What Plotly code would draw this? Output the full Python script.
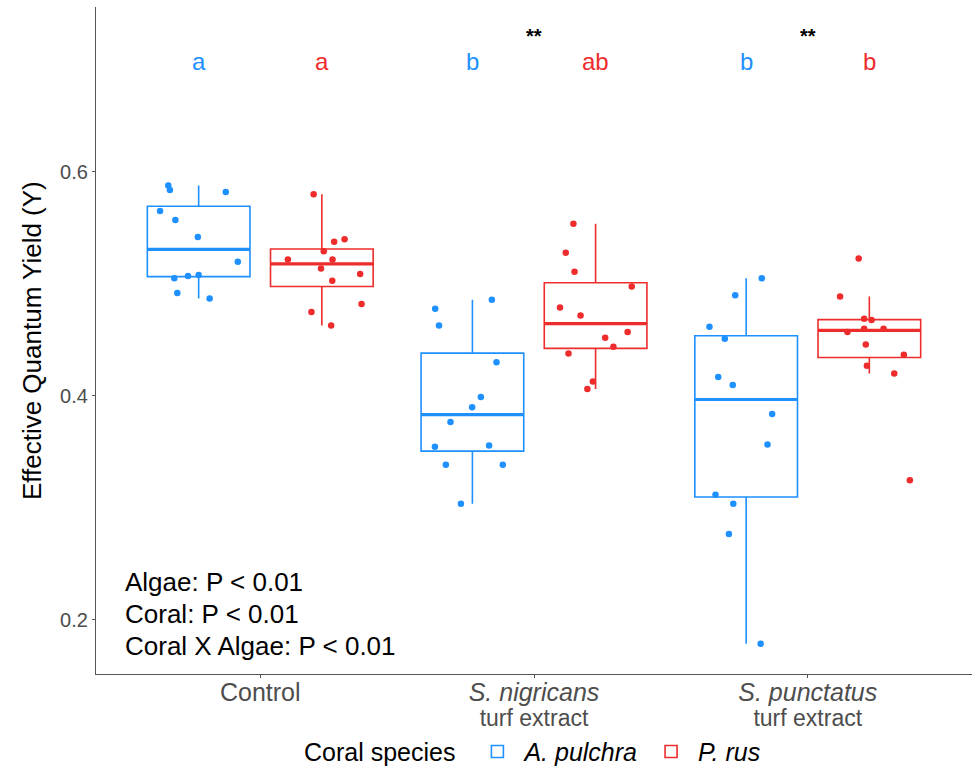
import numpy as np
import plotly.graph_objects as go

# ---------------- data ----------------
treatments = ["Control", "S. nigricans", "S. punctatus"]
tick_line1 = ["Control", "<i>S. nigricans</i>", "<i>S. punctatus</i>"]
tick_line2 = ["", "turf extract", "turf extract"]
species = ["A. pulchra", "P. rus"]
letters_pulchra = ["a", "b", "b"]
letters_rus = ["a", "ab", "b"]
interaction_marks = ["", "**", "**"]

# Effective quantum yield, A. pulchra
pulchra_control = [0.5878, 0.5836, 0.5819, 0.5649, 0.5569, 0.5417, 0.5196, 0.5048, 0.5069, 0.5078, 0.4917, 0.4869]
pulchra_nigricans = [0.4777, 0.4628, 0.4857, 0.4298, 0.3988, 0.3896, 0.3765, 0.3545, 0.3556, 0.3384, 0.3384, 0.3036]
pulchra_punctatus = [0.5048, 0.4896, 0.4616, 0.4509, 0.4167, 0.4095, 0.3837, 0.3565, 0.3116, 0.3036, 0.2765, 0.1786]
# Effective quantum yield, P. rus
rus_control = [0.5798, 0.5375, 0.5396, 0.5289, 0.5217, 0.5217, 0.5137, 0.5087, 0.5027, 0.4819, 0.4747, 0.4628]
rus_nigricans = [0.5536, 0.5277, 0.5107, 0.4976, 0.4788, 0.4717, 0.4569, 0.4518, 0.4438, 0.4378, 0.4128, 0.4060]
rus_punctatus = [0.5226, 0.4887, 0.4688, 0.4676, 0.4598, 0.4598, 0.4569, 0.4458, 0.4366, 0.4268, 0.4199, 0.3244]

# horizontal jitter of each point (category units)
pulchra_control_jit = [-0.111, -0.105, 0.099, -0.141, -0.085, -0.003, 0.143, -0.089, -0.039, 0.000, -0.078, 0.040]
pulchra_nigricans_jit = [-0.136, -0.122, 0.071, 0.088, 0.031, -0.001, -0.080, -0.137, 0.061, -0.097, 0.111, -0.042]
pulchra_punctatus_jit = [0.057, -0.040, -0.134, -0.078, -0.102, -0.049, 0.095, 0.078, -0.112, -0.047, -0.063, 0.053]
rus_control_jit = [-0.030, 0.045, 0.083, 0.007, -0.124, 0.039, -0.003, 0.140, 0.038, 0.145, -0.038, 0.034]
rus_nigricans_jit = [-0.081, -0.109, -0.077, 0.132, -0.130, -0.055, 0.117, 0.035, 0.065, -0.099, -0.010, -0.030]
rus_punctatus_jit = [-0.039, -0.107, -0.019, 0.008, -0.019, 0.052, -0.080, -0.013, 0.126, -0.009, 0.091, 0.148]

stats_lines = ["Algae: P < 0.01", "Coral: P < 0.01", "Coral X Algae: P < 0.01"]
stats_y = [0.2339, 0.2054, 0.1768]

# ---------------- styling ----------------
FONT = "Liberation Sans, Arial, Helvetica, sans-serif"
BLUE = "#1E90FF"
RED = "#EE2C2C"
DODGE = 0.225
BOXW = 0.375

groups = {
    "A. pulchra": dict(color=BLUE, offset=-DODGE,
                       vals=[pulchra_control, pulchra_nigricans, pulchra_punctatus],
                       jit=[pulchra_control_jit, pulchra_nigricans_jit, pulchra_punctatus_jit],
                       letters=letters_pulchra),
    "P. rus": dict(color=RED, offset=DODGE,
                   vals=[rus_control, rus_nigricans, rus_punctatus],
                   jit=[rus_control_jit, rus_nigricans_jit, rus_punctatus_jit],
                   letters=letters_rus),
}


def box_stats(v):
    a = np.asarray(v, dtype=float)
    q1, med, q3 = np.percentile(a, [25, 50, 75])
    iqr = q3 - q1
    lo = a[a >= q1 - 1.5 * iqr].min()
    hi = a[a <= q3 + 1.5 * iqr].max()
    return q1, med, q3, lo, hi


def tick_text(l1, l2):
    s = "<span style='font-size:25px'>%s</span>" % l1
    if l2:
        s += "<br><span style='font-size:23px'>%s</span>" % l2
    return s


tick_labels = [tick_text(a, b) for a, b in zip(tick_line1, tick_line2)]

fig = go.Figure()
cat_pos = np.arange(1, len(treatments) + 1)

for sp in species:
    g = groups[sp]
    xs = list(cat_pos + g["offset"])
    st = [box_stats(v) for v in g["vals"]]
    fig.add_trace(go.Box(
        x=xs,
        q1=[s[0] for s in st], median=[s[1] for s in st], q3=[s[2] for s in st],
        lowerfence=[s[3] for s in st], upperfence=[s[4] for s in st],
        width=BOXW, whiskerwidth=0, boxpoints=False,
        line=dict(color=g["color"], width=1.6),
        fillcolor="rgba(255,255,255,0)",
        name="<i>%s</i>" % sp, legendgroup=sp, showlegend=True,
    ))
    mx, my = [], []
    for x, s in zip(xs, st):
        mx += [x - BOXW / 2, x + BOXW / 2, None]
        my += [s[1], s[1], None]
    fig.add_trace(go.Scatter(x=mx, y=my, mode="lines",
                             line=dict(color=g["color"], width=3.2),
                             showlegend=False, legendgroup=sp, hoverinfo="skip"))
    px, py = [], []
    for x, v, j in zip(xs, g["vals"], g["jit"]):
        px += [x + d for d in j]
        py += list(v)
    fig.add_trace(go.Scatter(x=px, y=py, mode="markers",
                             marker=dict(color=g["color"], size=6.5),
                             showlegend=False, legendgroup=sp))

annotations = []
for sp in species:
    g = groups[sp]
    for x, t in zip(cat_pos + g["offset"], g["letters"]):
        annotations.append(dict(x=x, y=0.698, xref="x", yref="y", text=t, showarrow=False,
                                font=dict(family=FONT, size=24, color=g["color"]),
                                xanchor="center", yanchor="middle"))
for x, t in zip(cat_pos, interaction_marks):
    if t:
        annotations.append(dict(x=x, y=0.7215, xref="x", yref="y", text="<b>%s</b>" % t,
                                showarrow=False, font=dict(family=FONT, size=20, color="black"),
                                xanchor="center", yanchor="middle"))
for t, y in zip(stats_lines, stats_y):
    annotations.append(dict(x=0.5, y=y, xref="x", yref="y", text=t, showarrow=False,
                            align="left", xanchor="left", yanchor="middle",
                            font=dict(family=FONT, size=26, color="black")))
annotations.append(dict(x=-0.0735, y=0.5, xref="paper", yref="paper",
                        text="Effective Quantum Yield (Y)", textangle=-90, showarrow=False,
                        xanchor="center", yanchor="middle",
                        font=dict(family=FONT, size=26, color="black")))

fig.update_layout(
    width=976, height=772,
    margin=dict(l=96, r=4, t=7, b=98, autoexpand=False),
    plot_bgcolor="white", paper_bgcolor="white",
    boxmode="overlay",
    font=dict(family=FONT),
    annotations=annotations,
    legend=dict(orientation="h", x=0.5, xanchor="center", y=-0.1165, yanchor="middle",
                title=dict(text="Coral species ", font=dict(family=FONT, size=25, color="black")),
                font=dict(family=FONT, size=25, color="black"),
                itemwidth=44, bgcolor="rgba(0,0,0,0)"),
    xaxis=dict(range=[0.4, 3.6], tickvals=list(cat_pos), ticktext=tick_labels,
               showgrid=False, zeroline=False, showline=True, linecolor="#555555", linewidth=1.2,
               ticks="outside", ticklen=3, tickcolor="#555555", tickwidth=1,
               tickfont=dict(family=FONT, size=19, color="#4D4D4D")),
    yaxis=dict(range=[0.1515, 0.7471], tickvals=[0.2, 0.4, 0.6], ticktext=["0.2", "0.4", "0.6"],
               showgrid=False, zeroline=False, showline=True, linecolor="#555555", linewidth=1.2,
               ticks="outside", ticklen=3, tickcolor="#555555", tickwidth=1,
               tickfont=dict(family=FONT, size=20, color="#4D4D4D")),
)

fig.write_html("out.html")
